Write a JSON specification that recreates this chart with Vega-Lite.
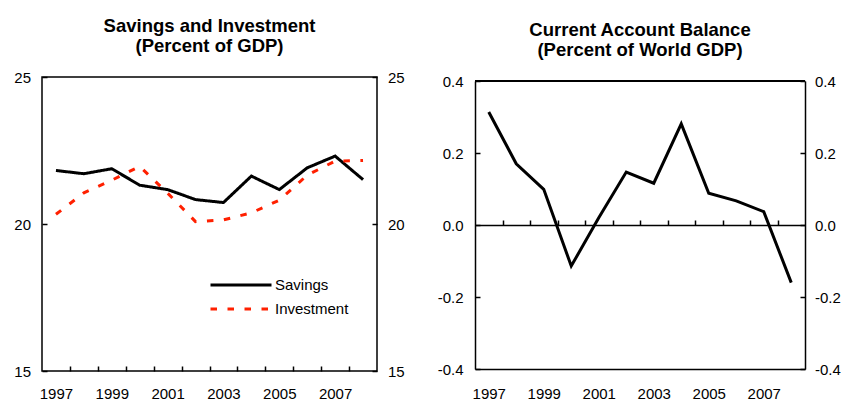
{
  "$schema": "https://vega.github.io/schema/vega-lite/v6.json",
  "background": "white",
  "padding": {"left": 13, "top": 15, "right": 0, "bottom": 0},
  "spacing": 32,
  "datasets": {
    "si": [
      {"year": 1997, "series": "Savings", "value": 21.82},
      {"year": 1998, "series": "Savings", "value": 21.71},
      {"year": 1999, "series": "Savings", "value": 21.88},
      {"year": 2000, "series": "Savings", "value": 21.32},
      {"year": 2001, "series": "Savings", "value": 21.17},
      {"year": 2002, "series": "Savings", "value": 20.83},
      {"year": 2003, "series": "Savings", "value": 20.73},
      {"year": 2004, "series": "Savings", "value": 21.63},
      {"year": 2005, "series": "Savings", "value": 21.17},
      {"year": 2006, "series": "Savings", "value": 21.91},
      {"year": 2007, "series": "Savings", "value": 22.31},
      {"year": 2008, "series": "Savings", "value": 21.51},
      {"year": 1997, "series": "Investment", "value": 20.33},
      {"year": 1998, "series": "Investment", "value": 21.06},
      {"year": 1999, "series": "Investment", "value": 21.49},
      {"year": 2000, "series": "Investment", "value": 21.96},
      {"year": 2001, "series": "Investment", "value": 21.05},
      {"year": 2002, "series": "Investment", "value": 20.08},
      {"year": 2003, "series": "Investment", "value": 20.14},
      {"year": 2004, "series": "Investment", "value": 20.38},
      {"year": 2005, "series": "Investment", "value": 20.81},
      {"year": 2006, "series": "Investment", "value": 21.66},
      {"year": 2007, "series": "Investment", "value": 22.14},
      {"year": 2008, "series": "Investment", "value": 22.16}
    ],
    "ca": [
      {"year": 1997, "value": 0.314},
      {"year": 1998, "value": 0.170},
      {"year": 1999, "value": 0.099},
      {"year": 2000, "value": -0.114},
      {"year": 2001, "value": 0.020},
      {"year": 2002, "value": 0.147},
      {"year": 2003, "value": 0.116},
      {"year": 2004, "value": 0.281},
      {"year": 2005, "value": 0.088},
      {"year": 2006, "value": 0.067},
      {"year": 2007, "value": 0.037},
      {"year": 2008, "value": -0.160}
    ]
  },
  "config": {
    "font": "Liberation Sans",
    "view": {"stroke": "#000000", "strokeWidth": 1.5},
    "axis": {
      "labelFont": "Liberation Sans",
      "labelFontSize": 15,
      "labelColor": "#000000",
      "tickColor": "#000000",
      "domainColor": "#000000",
      "tickWidth": 1.5,
      "domainWidth": 1.5,
      "grid": false,
      "title": null,
      "labelFlush": false,
      "labelOverlap": false
    },
    "title": {
      "font": "Liberation Sans",
      "fontSize": 18.5,
      "fontWeight": "bold",
      "color": "#000000",
      "anchor": "middle",
      "frame": "group",
      "lineHeight": 20
    }
  },
  "hconcat": [
    {
      "width": 335,
      "height": 294,
      "title": {"text": ["Savings and Investment", "(Percent of GDP)"], "offset": 15},
      "data": {"name": "si"},
      "layer": [
        {
          "mark": {"type": "line", "strokeWidth": 3},
          "encoding": {
            "x": {
              "field": "year", "type": "quantitative",
              "scale": {"domain": [1996.5, 2008.5], "nice": false, "zero": false},
              "axis": {"orient": "bottom", "values": [1997, 1999, 2001, 2003, 2005, 2007], "format": "d", "ticks": false, "domain": false, "labelPadding": 15}
            },
            "y": {
              "field": "value", "type": "quantitative",
              "scale": {"domain": [15, 25], "nice": false, "zero": false},
              "axis": {"orient": "left", "values": [15, 20, 25], "format": "d", "tickSize": -5, "domain": false, "labelPadding": 16.5}
            },
            "color": {
              "field": "series", "type": "nominal",
              "scale": {"domain": ["Savings", "Investment"], "range": ["#000000", "#FF2000"]},
              "legend": {"orient": "none", "legendX": 167, "legendY": 200, "title": null, "symbolType": "stroke", "symbolSize": 3721, "symbolStrokeWidth": 3, "labelFontSize": 15, "labelFont": "Liberation Sans", "labelColor": "#000000", "labelOffset": 2, "clipHeight": 16, "rowPadding": 8, "padding": 0}
            },
            "strokeDash": {
              "field": "series", "type": "nominal",
              "scale": {"domain": ["Savings", "Investment"], "range": [[1, 0], [6.5, 10.5]]},
              "legend": {"orient": "none", "legendX": 167, "legendY": 200, "title": null, "symbolType": "stroke", "symbolSize": 3721, "symbolStrokeWidth": 3, "labelFontSize": 15, "labelFont": "Liberation Sans", "labelColor": "#000000", "labelOffset": 2, "clipHeight": 16, "rowPadding": 8, "padding": 0}
            }
          }
        },
        {
          "mark": {"type": "point", "opacity": 0},
          "encoding": {
            "x": {
              "field": "year", "type": "quantitative",
              "axis": {"orient": "bottom", "values": [1997.5, 1998.5, 1999.5, 2000.5, 2001.5, 2002.5, 2003.5, 2004.5, 2005.5, 2006.5, 2007.5], "labels": false, "tickSize": -5, "domain": false}
            },
            "y": {
              "field": "value", "type": "quantitative",
              "axis": {"orient": "right", "values": [15, 20, 25], "format": "d", "tickSize": -5, "domain": false, "labelPadding": 15.5}
            }
          }
        }
      ],
      "resolve": {"axis": {"x": "independent", "y": "independent"}}
    },
    {
      "width": 330,
      "height": 292,
      "view": {"stroke": null},
      "title": {"text": ["Current Account Balance", "(Percent of World GDP)"], "offset": 15},
      "data": {"name": "ca"},
      "layer": [
        {
          "mark": {"type": "line", "strokeWidth": 3, "color": "#000000"},
          "encoding": {
            "x": {
              "field": "year", "type": "quantitative",
              "scale": {"domain": [1996.5, 2008.5], "nice": false, "zero": false},
              "axis": {"orient": "bottom", "values": [1997, 1999, 2001, 2003, 2005, 2007], "format": "d", "ticks": false, "domain": true, "labelPadding": 17}
            },
            "y": {
              "field": "value", "type": "quantitative",
              "scale": {"domain": [-0.4, 0.4], "range": [292, 4], "nice": false, "zero": false},
              "axis": {"orient": "left", "values": [-0.4, -0.2, 0, 0.2, 0.4], "format": ".1f", "labelExpr": "replace(datum.label, '\u2212', '-')", "tickSize": -5, "domain": true, "labelPadding": 17}
            }
          }
        },
        {
          "mark": {"type": "point", "opacity": 0},
          "encoding": {
            "x": {
              "field": "year", "type": "quantitative",
              "axis": {"orient": "bottom", "values": [1997.5, 1998.5, 1999.5, 2000.5, 2001.5, 2002.5, 2003.5, 2004.5, 2005.5, 2006.5, 2007.5], "labels": false, "tickSize": -5, "domain": true, "offset": -144}
            },
            "y": {
              "field": "value", "type": "quantitative",
              "axis": {"orient": "right", "values": [-0.4, -0.2, 0, 0.2, 0.4], "format": ".1f", "labelExpr": "replace(datum.label, '\u2212', '-')", "tickSize": -5, "domain": true, "labelPadding": 14.5}
            }
          }
        },
        {
          "mark": {"type": "rule", "strokeWidth": 1.5, "color": "#000000"},
          "encoding": {
            "y": {"datum": 0.4, "type": "quantitative", "axis": null}
          }
        }
      ],
      "resolve": {"axis": {"x": "independent", "y": "independent"}}
    }
  ]
}
